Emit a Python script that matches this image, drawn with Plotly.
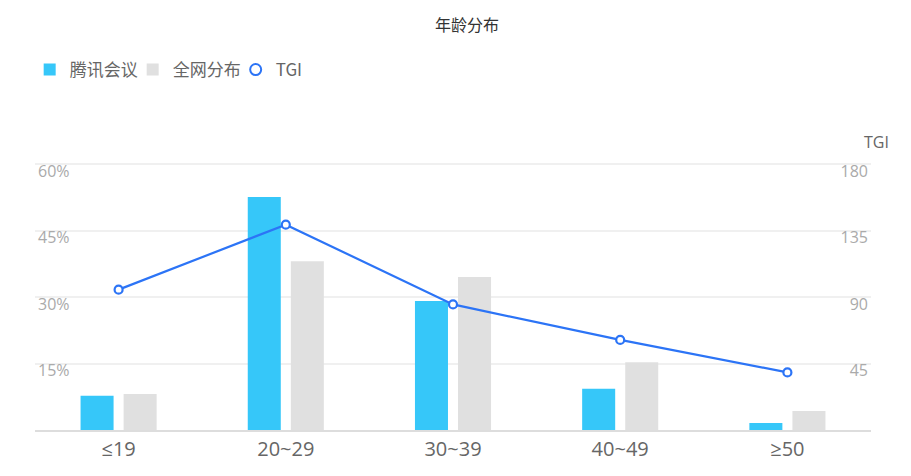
import plotly.graph_objects as go

categories = ["≤19", "20~29", "30~39", "40~49", "≥50"]
tencent_meeting = [7.7, 52.6, 29.1, 9.3, 1.6]
whole_network = [8.1, 38.1, 34.5, 15.3, 4.3]
tgi = [95, 139, 85, 61, 39]

left_ticks = [15, 30, 45, 60]
left_tick_text = ["15%", "30%", "45%", "60%"]
right_ticks = [45, 90, 135, 180]
right_tick_text = ["45", "90", "135", "180"]

FONT = "Noto Sans CJK SC, Noto Sans, sans-serif"
TICK_FONT = "Open Sans, DejaVu Sans, sans-serif"
BLUE_BAR = "#36C7F9"
GRAY_BAR = "#E0E0E0"
LINE = "#2C74F6"

# page body has an 8px default margin; figure is sized to fit the 911x476 window
W, H = 903, 468

fig = go.Figure()
fig.add_trace(go.Bar(name="腾讯会议", x=categories, y=tencent_meeting,
                     marker=dict(color=BLUE_BAR, line=dict(width=0)), yaxis="y"))
fig.add_trace(go.Bar(name="全网分布", x=categories, y=whole_network,
                     marker=dict(color=GRAY_BAR, line=dict(width=0)), yaxis="y"))
fig.add_trace(go.Scatter(name="TGI", x=categories, y=tgi, yaxis="y2",
                         mode="lines+markers", showlegend=False, legendgroup="tgi",
                         line=dict(color=LINE, width=2.2),
                         marker=dict(symbol="circle", size=8, color="white",
                                     line=dict(color=LINE, width=2.2))))
fig.add_trace(go.Scatter(name="TGI", x=[None], y=[None], yaxis="y2",
                         mode="markers", legendgroup="tgi",
                         marker=dict(symbol="circle", size=11, color="white",
                                     line=dict(color=LINE, width=2))))

fig.update_layout(
    width=W, height=H,
    margin=dict(l=27, r=40, t=145, b=46, autoexpand=False),
    paper_bgcolor="white", plot_bgcolor="white",
    font=dict(family=FONT, color="#666666"),
    title=dict(text="年龄分布", x=(467 - 8) / W, xref="container", xanchor="center",
               y=1 - 17 / H, yanchor="middle", font=dict(size=16, color="#333333")),
    barmode="group", bargap=0.485, bargroupgap=0.233,
    legend=dict(orientation="h", xref="container", yref="container",
                x=0.024, y=1 - 62 / H, xanchor="left", yanchor="middle",
                font=dict(size=17, color="#666666"),
                entrywidth=58, entrywidthmode="pixels", itemwidth=30),
    xaxis=dict(range=[-0.5, 4.5], showgrid=False, showline=True, linecolor="#DDDDDD",
               linewidth=1.5, ticks="", tickfont=dict(family=TICK_FONT, size=20,
                                                     color="#666666")),
    yaxis=dict(range=[0, 62.5], tickvals=left_ticks, ticktext=left_tick_text,
               showgrid=True, gridcolor="#F0F0F0", gridwidth=1.5, zeroline=False,
               ticklabelposition="inside", ticklabelstandoff=0, ticklabelshift=7,
               tickfont=dict(family=TICK_FONT, size=16, color="#AAAAAA")),
    yaxis2=dict(range=[0, 187.5], tickvals=right_ticks, ticktext=right_tick_text,
                overlaying="y", side="right", showgrid=False, zeroline=False,
                ticklabelposition="inside", ticklabelstandoff=0, ticklabelshift=7,
                tickfont=dict(family=TICK_FONT, size=16, color="#AAAAAA")),
    annotations=[dict(text="TGI", xref="paper", yref="paper", x=1.007, y=1,
                      yshift=11, xanchor="center", yanchor="middle", showarrow=False,
                      font=dict(family=TICK_FONT, size=16, color="#666666"))],
)

fig.write_html("out.html")
